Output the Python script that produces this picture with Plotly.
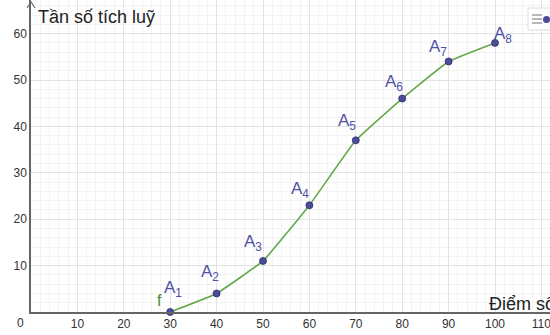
import plotly.graph_objects as go

# Data
x_values = [30, 40, 50, 60, 70, 80, 90, 100]
y_values = [0, 4, 11, 23, 37, 46, 54, 58]
point_names = ["A<sub>1</sub>", "A<sub>2</sub>", "A<sub>3</sub>", "A<sub>4</sub>",
               "A<sub>5</sub>", "A<sub>6</sub>", "A<sub>7</sub>", "A<sub>8</sub>"]
x_ticks = [10, 20, 30, 40, 50, 60, 70, 80, 90, 100, 110]
y_ticks = [10, 20, 30, 40, 50, 60]
y_title = "Tần số tích luỹ"
x_title = "Điểm số"
curve_name = "f"

# label offsets in pixels (dx right, dy up)
label_offsets = [(3, 23), (-6.5, 20), (-10, 18), (-9, 15), (-8.5, 18), (-8.5, 16), (-11, 13), (8, 8)]

W, H = 550, 335
L, B = 31, 23
PX = 4.64  # pixels per unit
plot_w = W - L
plot_h = H - B

fig = go.Figure()
fig.add_trace(go.Scatter(
    x=x_values, y=y_values, mode="lines",
    line=dict(color="#64a84a", width=1.6, shape="spline", smoothing=0.3),
    hoverinfo="skip", cliponaxis=False, showlegend=False))
fig.add_trace(go.Scatter(
    x=x_values, y=y_values, mode="markers",
    marker=dict(color="#4b4b98", size=7, line=dict(color="#2e2e70", width=0.8)),
    cliponaxis=False, showlegend=False))

annotations = []
for xv, yv, name, (dx, dy) in zip(x_values, y_values, point_names, label_offsets):
    annotations.append(dict(x=xv, y=yv, xref="x", yref="y", text=name, showarrow=False,
                            xanchor="center", yanchor="middle", xshift=dx, yshift=dy,
                            font=dict(size=17, color="#5151a6")))
# curve name
annotations.append(dict(x=x_values[0], y=y_values[0], xref="x", yref="y", text=curve_name,
                        showarrow=False, xanchor="center", yanchor="middle",
                        xshift=-11, yshift=12, font=dict(size=16, color="#4a8c3a")))
# origin label
annotations.append(dict(x=0, y=0, xref="x", yref="y", text="0", showarrow=False,
                        xanchor="center", yanchor="middle", xshift=-10.5, yshift=-11,
                        font=dict(size=12, color="#333333")))
# axis titles
annotations.append(dict(x=5 / plot_w, y=1 - 17 / plot_h, xref="paper", yref="paper",
                        text=y_title, showarrow=False, xanchor="left", yanchor="middle",
                        font=dict(size=18, color="#222222")))
annotations.append(dict(x=(487 - L) / plot_w, y=(plot_h - 304) / plot_h, xref="paper", yref="paper",
                        text=x_title, showarrow=False, xanchor="left", yanchor="middle",
                        font=dict(size=18, color="#222222")))

shapes = [
    # y-axis arrow head
    dict(type="path", xref="paper", yref="paper",
         path=f"M {-4/plot_w} {1-8/plot_h} L 0 {1-2/plot_h} L {4/plot_w} {1-8/plot_h}",
         line=dict(color="#666666", width=1.2)),
    # style bar icon box (top-right)
    dict(type="rect", xref="paper", yref="paper",
         x0=(528 - L) / plot_w, x1=(556 - L) / plot_w,
         y0=(plot_h - 30) / plot_h, y1=(plot_h - 8) / plot_h,
         fillcolor="white", line=dict(color="#dddddd", width=1)),
]
for yy in (15, 19, 23):
    shapes.append(dict(type="line", xref="paper", yref="paper",
                       x0=(532 - L) / plot_w, x1=(542 - L) / plot_w,
                       y0=(plot_h - yy) / plot_h, y1=(plot_h - yy) / plot_h,
                       line=dict(color="#888888", width=1.2)))
shapes.append(dict(type="circle", xref="paper", yref="paper",
                   x0=(543 - L) / plot_w, x1=(550 - L) / plot_w,
                   y0=(plot_h - 23) / plot_h, y1=(plot_h - 16) / plot_h,
                   fillcolor="#4b4b98", line=dict(width=0)))

fig.update_layout(
    width=W, height=H,
    margin=dict(l=L, r=0, t=0, b=B, autoexpand=False),
    paper_bgcolor="white", plot_bgcolor="white",
    font=dict(family="Liberation Sans, Arial, sans-serif", color="#333333"),
    annotations=annotations, shapes=shapes,
    xaxis=dict(range=[0, plot_w / PX], tickvals=x_ticks, showline=True, linecolor="#666666",
               linewidth=1.5, showgrid=True, gridcolor="#e3e3e3", gridwidth=1, automargin=False,
               minor=dict(dtick=2, tick0=0, showgrid=True, gridcolor="#f3f3f3", gridwidth=1),
               zeroline=False, ticks="", tickfont=dict(size=12, color="#333333"), fixedrange=True,
               ticklabeloverflow="allow"),
    yaxis=dict(range=[0, plot_h / PX], tickvals=y_ticks, showline=True, linecolor="#666666",
               linewidth=1.5, showgrid=True, gridcolor="#e3e3e3", gridwidth=1, automargin=False,
               minor=dict(dtick=2, tick0=0, showgrid=True, gridcolor="#f3f3f3", gridwidth=1),
               zeroline=False, ticks="", tickfont=dict(size=12, color="#333333"), fixedrange=True,
               ticklabeloverflow="allow"),
)

fig.write_html("out.html", config={"displayModeBar": False},
               post_script="document.body.style.margin='0';")
